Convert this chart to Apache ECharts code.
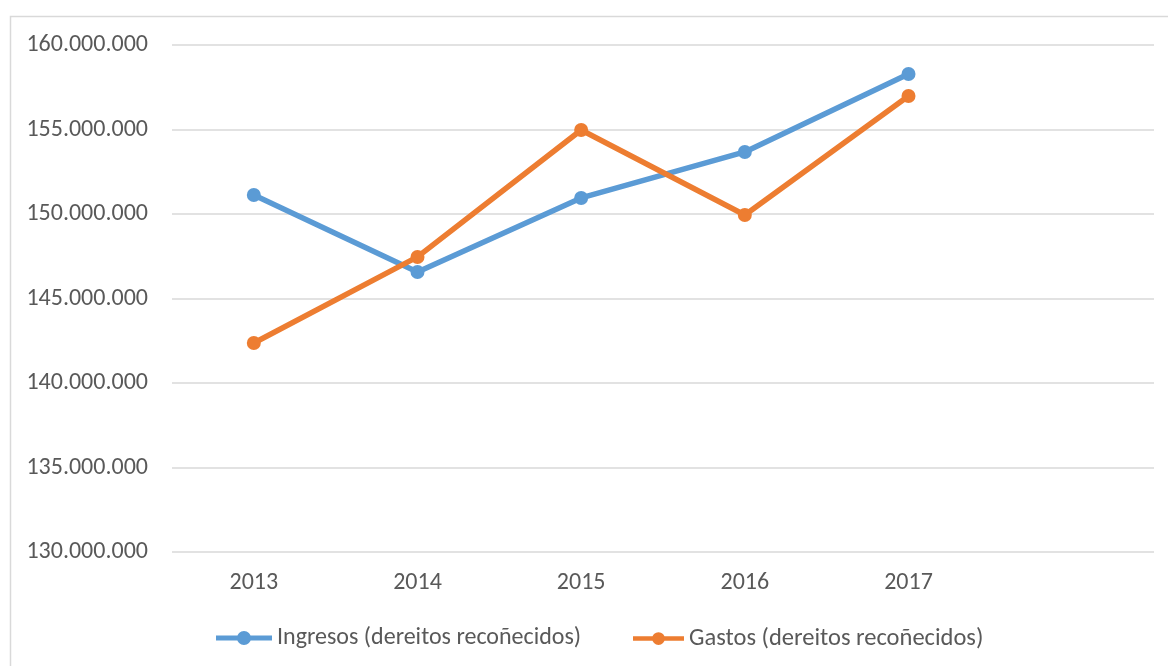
<!DOCTYPE html>
<html>
<head>
<meta charset="utf-8">
<script src="https://cdn.jsdelivr.net/npm/echarts@6/dist/echarts.min.js"></script>
<style>html,body{margin:0;padding:0;background:#fff}#c{width:1168px;height:666px}</style>
</head>
<body>
<div id="c"></div>
<script>
const categories = ['2013', '2014', '2015', '2016', '2017', ''];
const ingresos = [151120000, 146570000, 150950000, 153670000, 158280000, null];
const gastos = [142370000, 147460000, 154970000, 149940000, 156980000, null];
const seriesNames = ['Ingresos (dereitos recoñecidos)', 'Gastos (dereitos recoñecidos)'];

const chart = echarts.init(document.getElementById('c'));
const fontFamily = 'Carlito, Calibri, "Open Sans", "Liberation Sans", sans-serif';
const fmt = v => String(v).replace(/\B(?=(\d{3})+(?!\d))/g, '.');
const legendIcon = 'path://M0,5.5 H56 V10.5 H0 Z M21,8 A7,7 0 1,1 35,8 A7,7 0 1,1 21,8 Z';
chart.setOption({
  animation: false,
  textStyle: { fontFamily },
  graphic: [{
    type: 'rect', shape: { x: 10.5, y: 16.5, width: 1200, height: 700 },
    style: { fill: 'none', stroke: '#d9d9d9', lineWidth: 1.5 }, silent: true
  }],
  grid: { left: 172, right: 14, top: 45, bottom: 114, containLabel: false },
  legend: [
    { left: 216, top: 626, padding: 0, itemWidth: 56, itemHeight: 16, itemGap: 4, data: [seriesNames[0]],
      icon: legendIcon,
      textStyle: { color: '#595959', fontSize: 24, fontFamily } },
    { left: 633, top: 626, padding: 0, itemWidth: 51, itemHeight: 16, itemGap: 4, data: [seriesNames[1]],
      icon: legendIcon,
      textStyle: { color: '#595959', fontSize: 24.5, fontFamily } }
  ],
  xAxis: {
    type: 'category', data: categories, boundaryGap: true,
    axisLine: { show: false }, axisTick: { show: false },
    axisLabel: { color: '#595959', fontSize: 24, margin: 19, fontFamily }
  },
  yAxis: {
    type: 'value', min: 130000000, max: 160000000, interval: 5000000,
    axisLine: { show: false }, axisTick: { show: false },
    splitLine: { lineStyle: { color: '#d9d9d9', width: 1.5 } },
    axisLabel: { color: '#595959', fontSize: 24, margin: 24, formatter: fmt, fontFamily }
  },
  series: [
    { name: seriesNames[0], type: 'line', data: ingresos, symbol: 'circle', symbolSize: 14,
      lineStyle: { width: 5.5, color: '#5B9BD5' }, itemStyle: { color: '#5B9BD5' } },
    { name: seriesNames[1], type: 'line', data: gastos, symbol: 'circle', symbolSize: 14,
      lineStyle: { width: 5.5, color: '#ED7D31' }, itemStyle: { color: '#ED7D31' } }
  ]
});
</script>
</body>
</html>
